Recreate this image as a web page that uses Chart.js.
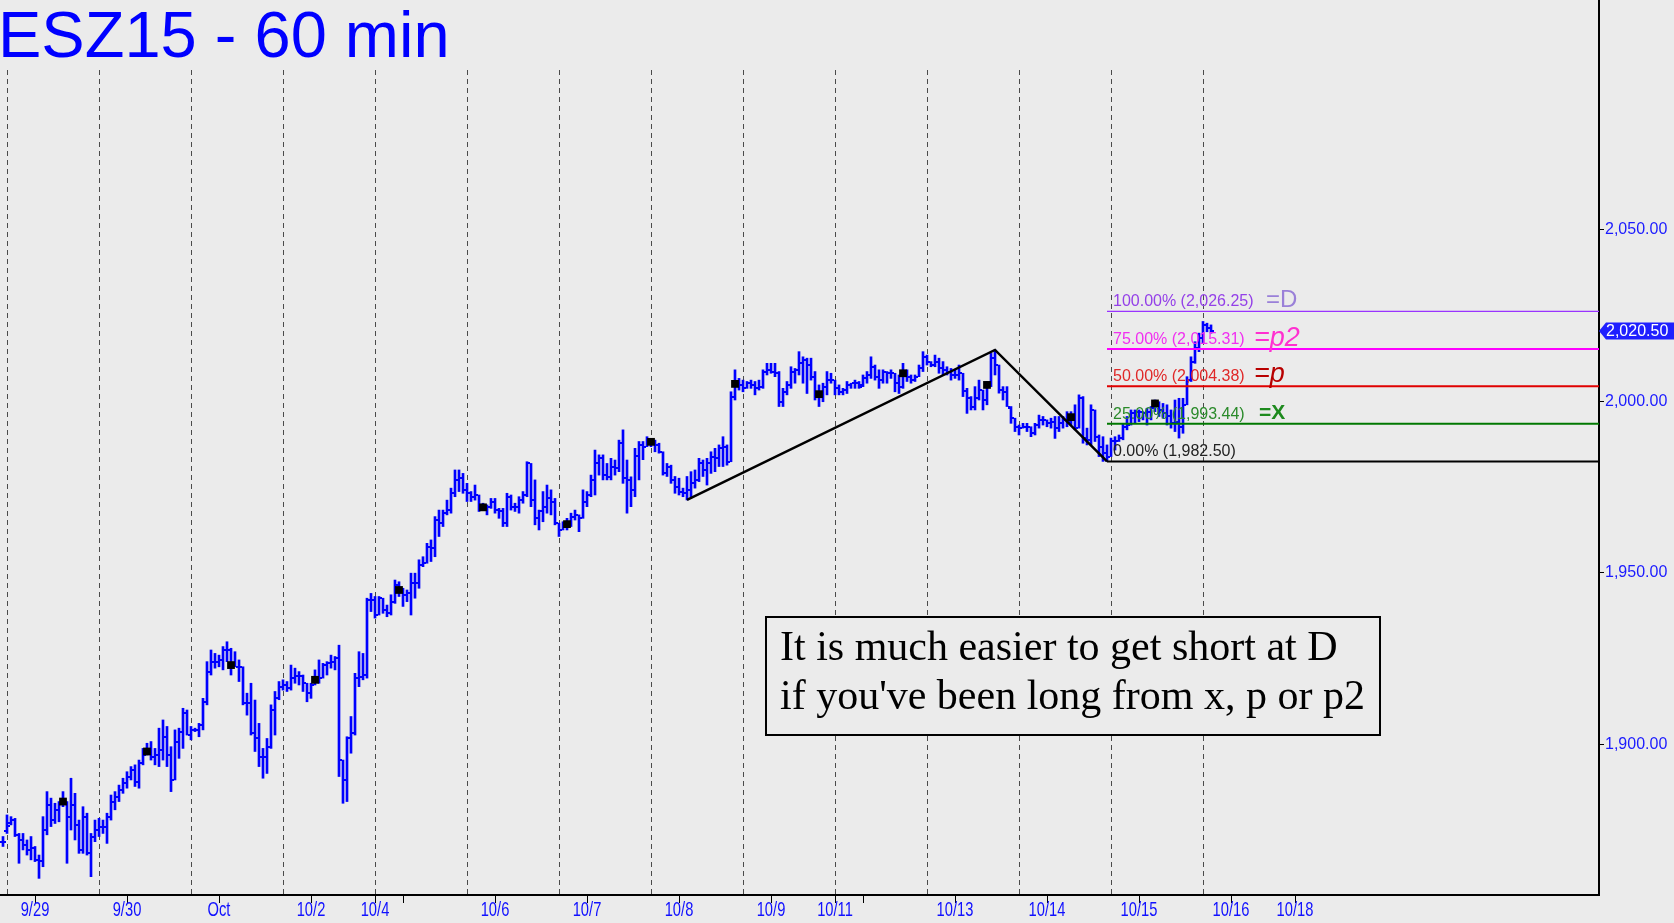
<!DOCTYPE html>
<html>
<head>
<meta charset="utf-8">
<script src="https://cdn.jsdelivr.net/npm/chart.js@4.4.1/dist/chart.umd.min.js"></script>
<style>
  html, body { margin: 0; padding: 0; background: #ebebeb; }
  #chart { display: block; }
</style>
</head>
<body>
<canvas id="chart" width="1674" height="923" style="width:1674px;height:923px"></canvas>
<script>
// hourly ESZ15 bars, index 0 = first visible bar
const opens = [
  1871.6,1874.8,1877.0,1877.9,1873.6,1872.1,1870.6,1869.2,1869.7,1866.3,
  1866.0,1875.0,1882.3,1877.9,1880.9,1882.8,1883.3,1878.9,1882.3,1876.5,
  1869.2,1878.9,1868.2,1873.1,1875.0,1876.0,1876.0,1878.9,1883.3,1884.7,
  1886.7,1888.6,1890.6,1892.5,1889.1,1894.5,1896.9,1897.9,1896.4,1896.9,
  1898.3,1902.2,1896.9,1889.6,1900.8,1903.7,1909.0,1902.7,1904.2,1904.2,
  1905.6,1912.4,1921.2,1924.1,1924.1,1924.6,1927.5,1927.5,1923.1,1922.6,
  1922.6,1912.0,1912.0,1903.2,1901.7,1896.4,1896.4,1899.3,1910.0,1913.4,
  1916.8,1917.3,1916.3,1919.3,1919.8,1919.8,1917.8,1914.9,1917.3,1918.8,
  1919.3,1923.1,1923.6,1924.1,1925.1,1895.4,1889.6,1901.8,1903.2,1919.3,
  1919.7,1920.2,1942.1,1942.1,1937.7,1942.6,1939.2,1938.2,1941.6,1946.5,
  1945.0,1943.6,1944.1,1947.0,1947.0,1952.3,1952.8,1957.6,1957.2,1965.4,
  1964.5,1967.4,1968.3,1973.2,1977.1,1977.6,1974.2,1973.2,1972.2,1972.7,
  1968.8,1969.1,1969.3,1970.8,1968.3,1967.9,1964.5,1972.2,1969.3,1969.3,
  1971.2,1972.7,1981.9,1971.2,1965.9,1967.9,1969.3,1971.7,1970.8,1964.5,
  1962.5,1964.0,1964.2,1966.4,1966.9,1965.9,1970.8,1972.7,1977.1,1981.9,
  1983.4,1978.5,1978.0,1981.0,1980.5,1987.8,1977.6,1977.1,1974.2,1984.0,
  1987.3,1986.8,1988.2,1988.2,1987.3,1985.3,1979.0,1981.0,1977.1,1975.1,
  1973.7,1973.2,1974.2,1976.1,1977.1,1981.9,1980.0,1981.9,1983.9,1983.4,
  1986.3,1986.8,1982.4,2001.4,2005.1,2004.8,2003.8,2005.3,2004.8,2003.8,
  2004.3,2008.7,2009.2,2008.7,2008.2,1999.9,2002.8,2004.8,2008.7,2009.2,
  2011.1,2012.1,2010.6,2007.2,2001.9,2002.1,2004.3,2006.2,2006.2,2003.8,
  2002.8,2003.3,2004.8,2005.3,2005.3,2004.8,2006.7,2007.7,2010.1,2007.2,
  2006.2,2008.7,2008.2,2008.2,2005.3,2004.3,2008.2,2007.2,2006.2,2007.2,
  2009.6,2013.0,2011.6,2010.6,2011.6,2009.6,2009.2,2008.7,2007.7,2007.7,
  2008.2,2002.9,2000.9,1998.5,2000.9,2003.3,2000.4,2004.8,2012.6,2010.6,
  2003.3,2002.8,1998.0,1995.1,1992.6,1992.2,1992.6,1992.6,1990.7,1993.1,
  1994.6,1994.6,1993.6,1994.1,1992.2,1993.6,1994.6,1994.1,1995.4,1992.2,
  2000.9,1989.3,1988.8,1997.5,1989.7,1986.8,1984.9,1983.9,1988.3,1988.3,
  1989.3,1992.6,1993.1,1996.5,1997.0,1997.0,1996.5,1997.0,1998.0,1999.4,
  1997.5,1996.5,1995.6,1993.6,1994.1,1992.6,1999.0,2006.2,2011.6,2015.5,
  2018.4,2022.3,2021.3
];
const highs = [
  1873.1,1879.4,1878.9,1878.4,1874.0,1874.0,1872.1,1873.1,1870.2,1867.7,
  1878.9,1886.2,1884.3,1882.8,1883.3,1886.2,1883.3,1890.1,1885.7,1877.9,
  1881.8,1879.9,1874.0,1877.9,1878.4,1877.9,1879.9,1885.2,1886.2,1888.1,
  1890.1,1892.0,1893.5,1894.0,1895.4,1898.8,1900.3,1900.8,1898.8,1904.7,
  1907.1,1905.2,1899.3,1904.2,1904.7,1910.5,1910.0,1905.2,1904.7,1906.1,
  1913.4,1924.1,1927.5,1926.5,1926.0,1928.5,1929.9,1928.0,1927.0,1924.6,
  1922.6,1914.9,1917.8,1912.9,1906.1,1898.8,1901.7,1911.5,1915.4,1918.3,
  1918.8,1918.3,1923.1,1922.2,1921.2,1920.2,1917.8,1917.8,1921.7,1924.6,
  1923.6,1924.1,1926.0,1925.6,1928.9,1895.4,1902.2,1908.1,1920.7,1927.0,
  1926.5,1942.6,1944.0,1943.1,1943.1,1942.6,1940.6,1943.6,1947.9,1947.4,
  1945.5,1945.0,1949.9,1949.9,1953.8,1954.7,1958.6,1959.6,1966.4,1968.3,
  1968.3,1971.2,1974.7,1980.0,1980.0,1979.0,1976.1,1973.7,1975.6,1972.7,
  1970.3,1969.8,1971.7,1971.7,1968.8,1968.8,1973.2,1972.7,1970.3,1972.2,
  1973.7,1982.4,1981.9,1977.1,1968.3,1973.7,1975.6,1974.2,1971.7,1964.5,
  1964.9,1965.9,1967.4,1968.3,1966.9,1974.2,1973.7,1978.5,1985.8,1984.4,
  1984.4,1981.9,1983.4,1982.9,1988.7,1991.7,1982.9,1978.0,1986.3,1988.3,
  1988.3,1989.7,1989.2,1988.7,1987.8,1985.3,1981.9,1981.4,1978.1,1977.6,
  1974.7,1978.1,1979.5,1980.0,1983.4,1982.9,1983.4,1985.3,1986.3,1987.3,
  1989.7,1987.3,2002.8,2009.2,2006.7,2006.2,2005.8,2006.2,2005.8,2006.2,
  2009.2,2011.1,2011.1,2011.1,2008.7,2003.8,2005.8,2010.1,2009.6,2014.5,
  2013.0,2012.6,2012.6,2008.7,2004.8,2005.3,2008.7,2008.2,2006.2,2004.8,
  2003.8,2005.8,2005.3,2006.2,2005.8,2007.7,2008.7,2013.0,2010.6,2009.2,
  2009.2,2008.7,2009.2,2008.2,2007.7,2011.1,2009.2,2007.7,2007.7,2010.6,
  2014.5,2013.5,2011.6,2013.5,2012.6,2011.6,2010.1,2009.6,2009.2,2010.6,
  2008.2,2003.8,2001.4,2004.3,2006.2,2003.3,2005.8,2014.0,2015.0,2010.6,
  2004.3,2004.3,1998.5,1995.1,1993.1,1993.6,1993.6,1992.6,1993.6,1996.0,
  1995.6,1994.6,1995.1,1995.6,1995.6,1995.6,1997.0,1997.0,1999.0,2001.9,
  2001.4,1992.2,1999.0,1997.5,1990.2,1989.7,1987.3,1989.3,1989.7,1990.2,
  1993.6,1995.6,1997.5,1997.5,1997.5,1997.0,1998.0,1998.5,2000.4,1999.9,
  1999.4,1999.0,1997.5,2000.4,2000.9,2000.9,2007.2,2013.0,2017.4,2019.9,
  2023.3,2022.8,2022.3
];
const lows = [
  1870.2,1874.0,1876.5,1873.1,1865.3,1869.2,1867.7,1866.3,1865.8,1860.9,
  1864.3,1873.6,1876.0,1876.9,1877.4,1881.8,1865.3,1875.0,1872.1,1868.2,
  1868.2,1867.7,1861.4,1871.6,1873.1,1874.0,1871.1,1877.9,1880.9,1883.3,
  1885.7,1887.2,1889.6,1887.7,1887.2,1894.0,1896.9,1895.4,1894.0,1893.5,
  1895.4,1893.5,1886.2,1889.6,1895.9,1898.8,1902.7,1901.3,1903.7,1902.2,
  1904.2,1911.5,1920.2,1922.2,1922.6,1921.7,1924.1,1920.2,1922.6,1918.3,
  1911.5,1908.5,1902.7,1897.9,1893.5,1890.1,1891.5,1898.8,1902.7,1913.0,
  1915.8,1915.4,1915.8,1917.8,1917.3,1915.4,1912.4,1913.4,1917.3,1917.8,
  1919.3,1920.2,1922.2,1921.7,1890.6,1882.8,1883.3,1897.4,1902.7,1916.8,
  1918.8,1919.3,1938.7,1936.8,1937.7,1938.2,1937.2,1937.7,1941.1,1943.1,
  1940.2,1941.6,1937.7,1942.6,1945.5,1951.8,1952.8,1953.3,1954.7,1960.6,
  1963.5,1966.9,1967.4,1972.2,1973.7,1973.2,1970.8,1970.8,1971.2,1967.9,
  1968.3,1966.9,1968.8,1967.4,1965.9,1963.5,1963.5,1968.3,1967.9,1967.4,
  1970.3,1972.2,1969.3,1964.0,1962.5,1964.9,1967.4,1966.9,1964.0,1960.6,
  1962.5,1962.5,1963.5,1965.4,1962.0,1965.9,1969.3,1972.2,1972.7,1978.5,
  1977.1,1977.1,1977.1,1978.5,1979.5,1976.1,1967.4,1969.3,1972.2,1977.1,
  1983.0,1986.8,1986.8,1985.3,1984.9,1978.5,1978.1,1976.1,1973.2,1972.7,
  1972.2,1971.25,1972.2,1974.7,1976.6,1978.1,1975.6,1979.0,1979.5,1981.0,
  1981.0,1981.4,1982.4,2000.4,2003.3,2002.8,2003.8,2003.8,2001.9,2003.3,
  2003.8,2007.7,2008.2,2007.2,1998.5,1998.5,2001.9,2003.8,2005.3,2007.7,
  2005.3,2002.3,2006.2,2000.4,1998.5,1999.9,2001.9,2005.3,2001.9,2001.9,
  2001.9,2002.3,2003.8,2003.8,2003.8,2004.3,2005.3,2006.7,2006.2,2003.8,
  2005.3,2005.3,2006.7,2002.8,2002.3,2003.8,2005.8,2005.3,2005.8,2007.2,
  2008.7,2010.6,2010.1,2010.1,2008.2,2007.7,2007.7,2006.2,2006.7,2006.2,
  2001.4,1996.5,1997.5,1997.5,2000.4,1997.5,1999.0,2004.3,2007.7,2002.4,
  2000.4,1998.5,1993.6,1991.2,1990.2,1992.2,1991.2,1989.7,1990.2,1992.2,
  1993.1,1992.6,1992.2,1989.2,1991.2,1992.2,1992.6,1993.1,1991.7,1992.2,
  1987.8,1987.3,1987.3,1988.3,1983.9,1982.5,1982.5,1983.9,1985.8,1988.3,
  1988.8,1991.7,1993.1,1993.6,1994.1,1994.6,1993.1,1994.6,1997.0,1995.6,
  1995.1,1993.1,1992.2,1991.2,1989.3,1990.7,1999.0,2005.8,2011.1,2014.5,
  2017.0,2020.3,2019.9
];
const closes = [
  1871.6,1876.2,1877.9,1873.6,1872.1,1870.6,1869.2,1869.7,1866.3,1866.0,
  1875.0,1882.3,1877.9,1880.9,1882.8,1883.3,1878.9,1882.3,1876.5,1869.2,
  1878.9,1868.2,1873.1,1875.0,1876.0,1876.0,1878.9,1883.3,1884.7,1886.7,
  1888.6,1890.6,1892.5,1889.1,1894.5,1896.9,1897.9,1896.4,1896.9,1898.3,
  1902.2,1896.9,1889.6,1900.8,1903.7,1909.0,1902.7,1904.2,1904.2,1905.6,
  1912.4,1921.2,1924.1,1924.1,1924.6,1927.5,1927.5,1923.1,1922.6,1922.6,
  1912.0,1912.0,1903.2,1901.7,1896.4,1896.4,1899.3,1910.0,1913.4,1916.8,
  1917.3,1916.3,1919.3,1919.8,1919.8,1917.8,1914.9,1917.3,1918.8,1919.3,
  1923.1,1923.6,1924.1,1925.1,1895.4,1889.6,1901.8,1903.2,1919.3,1919.7,
  1920.2,1942.1,1942.1,1937.7,1942.6,1939.2,1938.2,1941.6,1946.5,1945.0,
  1943.6,1944.1,1947.0,1947.0,1952.3,1952.8,1957.6,1957.2,1965.4,1964.5,
  1967.4,1968.3,1973.2,1977.1,1977.6,1974.2,1973.2,1972.2,1972.7,1968.8,
  1969.1,1969.3,1970.8,1968.3,1967.9,1964.5,1972.2,1969.3,1969.3,1971.2,
  1972.7,1981.9,1971.2,1965.9,1967.9,1969.3,1971.7,1970.8,1964.5,1962.5,
  1964.0,1964.2,1966.4,1966.9,1965.9,1970.8,1972.7,1977.1,1981.9,1983.4,
  1978.5,1978.0,1981.0,1980.5,1987.8,1977.6,1977.1,1974.2,1984.0,1987.3,
  1986.8,1988.2,1988.2,1987.3,1985.3,1979.0,1981.0,1977.1,1975.1,1973.7,
  1973.2,1974.2,1976.1,1977.1,1981.9,1980.0,1981.9,1983.9,1983.4,1986.3,
  1986.8,1982.4,2001.4,2005.1,2004.8,2003.8,2005.3,2004.8,2003.8,2004.3,
  2008.7,2009.2,2008.7,2008.2,1999.9,2002.8,2004.8,2008.7,2009.2,2011.1,
  2012.1,2010.6,2007.2,2001.9,2002.1,2004.3,2006.2,2006.2,2003.8,2002.8,
  2003.3,2004.8,2005.3,2005.3,2004.3,2006.7,2007.7,2010.1,2007.2,2006.2,
  2008.7,2008.2,2008.2,2005.3,2004.3,2008.2,2007.2,2006.2,2007.2,2009.6,
  2013.0,2011.6,2010.6,2011.6,2009.6,2009.2,2008.7,2007.7,2007.7,2008.2,
  2002.9,2000.9,1998.5,2000.9,2003.3,2000.4,2004.8,2012.6,2010.6,2003.3,
  2002.8,1998.5,1995.1,1992.6,1992.2,1992.6,1992.6,1990.7,1993.1,1994.6,
  1994.6,1993.6,1994.1,1992.2,1993.6,1994.6,1994.1,1995.4,1992.2,2000.9,
  1989.3,1988.8,1997.5,1989.7,1986.8,1984.9,1983.9,1988.3,1988.3,1989.3,
  1992.6,1993.1,1996.5,1997.0,1997.0,1996.5,1997.0,1998.0,1999.4,1997.5,
  1996.5,1995.6,1993.6,1994.1,1992.6,1999.0,2006.2,2011.6,2015.5,2018.4,
  2022.3,2021.3,2020.5
];

// bars that carry the black square
const markerBars = [15, 36, 57, 78, 99, 120, 141, 162, 183, 204, 225, 246, 267, 288];

// first bar of each session (dashed lines)
const sessionStarts = [1, 24, 47, 70, 93, 116, 139, 162, 185, 208, 231, 254, 277, 300];

// x axis labels
const tickBars = [8, 31, 54, 77, 93, 100, 123, 146, 169, 192, 208, 215, 238, 261, 284, 307, 323];
const tickLabels = ['9/29', '9/30', 'Oct', '10/2', '10/4', '', '10/6', '10/7', '10/8', '10/9',
                    '10/11', '', '10/13', '10/14', '10/15', '10/16', '10/18'];
const yTicks = [1900, 1950, 2000, 2050];

// A-B-C swing and the projection levels from C
const swingBars = [171, 248, 276];
const swingPrices = [1971.25, 2015.00, 1982.50];
const fibPct = ['100.00%', '75.00%', '50.00%', '25.00%', '0.00%'];
const fibVals = [2026.25, 2015.31, 2004.38, 1993.44, 1982.50];
const fibTags = ['=D', '=p2', '=p', '=X', ''];

const X_MIN = -0.75, X_MAX = 399.0;
const Y_MIN = 1856.05, Y_MAX = 2117.05;

const BG = '#ebebeb';
const fibLineColors = ['#9933ff', '#ff00ff', '#e00000', '#007800', '#000000'];
const fibLineWidths = [1.2, 2, 2, 2, 2];
const fibTextColors = ['#9440e8', '#f030f0', '#e02828', '#2a8a2a', '#222222'];

const fmt = v => v.toLocaleString('en-US', { minimumFractionDigits: 2, maximumFractionDigits: 2 });

const fibDatasets = fibVals.map((v, i) => ({
  type: 'line',
  data: [{ x: swingBars[2], y: v }, { x: X_MAX, y: v }],
  borderColor: fibLineColors[i],
  borderWidth: fibLineWidths[i],
  pointRadius: 0,
  order: 2
}));

const chartPainter = {
  id: 'chartPainter',
  beforeDraw(chart) {
    const c = chart.ctx;
    c.save();
    c.fillStyle = BG;
    c.fillRect(0, 0, chart.width, chart.height);
    c.restore();
  },
  beforeDatasetsDraw(chart) {
    const c = chart.ctx, x = chart.scales.x, area = chart.chartArea;
    c.save();
    c.strokeStyle = '#4a4a4a';
    c.lineWidth = 1;
    c.setLineDash([5, 4]);
    sessionStarts.forEach(b => {
      const px = Math.round(x.getPixelForValue(b)) + 0.5;
      c.beginPath();
      c.moveTo(px, 70);
      c.lineTo(px, area.bottom);
      c.stroke();
    });
    c.restore();
  },
  afterDatasetDraw(chart, args) {
    if (args.index !== 0) return;
    const c = chart.ctx, x = chart.scales.x, y = chart.scales.y;
    c.save();
    c.fillStyle = '#0000ff';
    for (let i = 0; i < opens.length; i++) {
      const px = Math.round(x.getPixelForValue(i));
      c.fillRect(px - 3, Math.round(y.getPixelForValue(opens[i])) - 1, 2, 2);
      c.fillRect(px + 1, Math.round(y.getPixelForValue(closes[i])) - 1, 2, 2);
    }
    c.restore();
  },
  afterDraw(chart) {
    const c = chart.ctx, x = chart.scales.x, y = chart.scales.y;
    c.save();

    // title
    c.fillStyle = '#0000ff';
    c.font = '65px "Liberation Sans", Arial, sans-serif';
    c.textBaseline = 'alphabetic';
    c.textAlign = 'left';
    c.fillText('ESZ15 - 60 min', -2, 57);

    // date labels, narrow
    c.fillStyle = '#1010ff';
    c.font = '21px "Liberation Sans", Arial, sans-serif';
    c.textAlign = 'center';
    c.textBaseline = 'top';
    tickBars.forEach((b, i) => {
      if (!tickLabels[i]) return;
      c.save();
      c.translate(x.getPixelForValue(b), chart.chartArea.bottom + 5);
      c.scale(0.7, 1);
      c.fillText(tickLabels[i], 0, 0);
      c.restore();
    });
    c.textAlign = 'left';
    c.textBaseline = 'alphabetic';

    // fib labels
    const lx = x.getPixelForValue(swingBars[2]) + 6;
    fibVals.forEach((v, i) => {
      const py = y.getPixelForValue(v);
      c.font = '16px "Liberation Sans", Arial, sans-serif';
      c.fillStyle = fibTextColors[i];
      c.fillText(fibPct[i] + ' (' + fmt(v) + ')', lx, py - 5);
    });
    c.font = '24px "Liberation Sans", Arial, sans-serif';
    c.fillStyle = '#9a80d8';
    c.fillText(fibTags[0], lx + 153, y.getPixelForValue(fibVals[0]) - 4.5);
    c.font = 'italic 27px "Liberation Sans", Arial, sans-serif';
    c.fillStyle = '#ff30d0';
    c.fillText(fibTags[1], lx + 141, y.getPixelForValue(fibVals[1]) - 3);
    c.fillStyle = '#b80000';
    c.fillText(fibTags[2], lx + 141, y.getPixelForValue(fibVals[2]) - 4.5);
    c.font = 'bold 21px "Liberation Sans", Arial, sans-serif';
    c.fillStyle = '#1e8a1e';
    c.fillText(fibTags[3], lx + 146, y.getPixelForValue(fibVals[3]) - 4.5);

    // comment box
    c.fillStyle = BG;
    c.fillRect(766, 617, 614, 118);
    c.strokeStyle = '#000';
    c.lineWidth = 2;
    c.strokeRect(766, 617, 614, 118);
    c.fillStyle = '#000';
    c.font = '42px "Liberation Serif", "Times New Roman", serif';
    c.textBaseline = 'middle';
    c.fillText('It is much easier to get short at D', 780, 649);
    c.fillText("if you've been long from x, p or p2", 780, 698);

    // last price flag on the axis
    const last = closes[closes.length - 1];
    const ly = y.getPixelForValue(last);
    const ax = chart.chartArea.right;
    c.fillStyle = '#1f1fff';
    c.beginPath();
    c.moveTo(ax, ly);
    c.lineTo(ax + 7, ly - 8.5);
    c.lineTo(chart.width, ly - 8.5);
    c.lineTo(chart.width, ly + 8.5);
    c.lineTo(ax + 7, ly + 8.5);
    c.closePath();
    c.fill();
    c.fillStyle = '#fff';
    c.font = '16px "Liberation Sans", Arial, sans-serif';
    c.textBaseline = 'middle';
    c.fillText(fmt(last), ax + 7, ly + 1);

    c.restore();
  }
};

new Chart(document.getElementById('chart'), {
  type: 'bar',
  data: {
    datasets: [
      {
        type: 'bar',
        data: highs.map((h, i) => ({ x: i, y: [lows[i], h] })),
        backgroundColor: '#0000ff',
        borderWidth: 0,
        barThickness: 2,
        grouped: false,
        order: 3
      },
      ...fibDatasets,
      {
        type: 'line',
        data: swingBars.map((b, i) => ({ x: b, y: swingPrices[i] })),
        borderColor: '#000',
        borderWidth: 2.5,
        pointRadius: 0,
        order: 1
      },
      {
        type: 'scatter',
        data: markerBars.map(b => ({ x: b, y: closes[b] })),
        pointStyle: 'rect',
        pointRadius: 5.5,
        backgroundColor: '#000',
        borderWidth: 0,
        order: 0
      }
    ]
  },
  options: {
    responsive: false,
    animation: false,
    devicePixelRatio: 1,
    layout: { padding: 0, autoPadding: false },
    plugins: { legend: { display: false }, tooltip: { enabled: false }, title: { display: false } },
    scales: {
      x: {
        type: 'linear',
        min: X_MIN,
        max: X_MAX,
        offset: false,
        grid: { display: true, offset: false, drawOnChartArea: false, drawTicks: true, tickLength: 8, color: '#000' },
        border: { display: true, color: '#000', width: 2 },
        afterBuildTicks: s => { s.ticks = tickBars.map(v => ({ value: v })); },
        afterFit: s => { s.height = 28; s.paddingLeft = 0; s.paddingRight = 0; },
        ticks: { display: false, autoSkip: false, maxRotation: 0 }
      },
      y: {
        position: 'right',
        min: Y_MIN,
        max: Y_MAX,
        grid: { display: true, drawOnChartArea: false, drawTicks: true, tickLength: 5, color: '#000' },
        border: { display: true, color: '#000', width: 2 },
        afterBuildTicks: s => { s.ticks = yTicks.map(v => ({ value: v })); },
        afterFit: s => { s.width = 75; s.paddingTop = 0; s.paddingBottom = 0; },
        ticks: {
          padding: 1,
          color: '#1a1aff',
          font: { family: '"Liberation Sans", Arial, sans-serif', size: 16 },
          callback: v => fmt(v)
        }
      }
    }
  },
  plugins: [chartPainter]
});
</script>
</body>
</html>
